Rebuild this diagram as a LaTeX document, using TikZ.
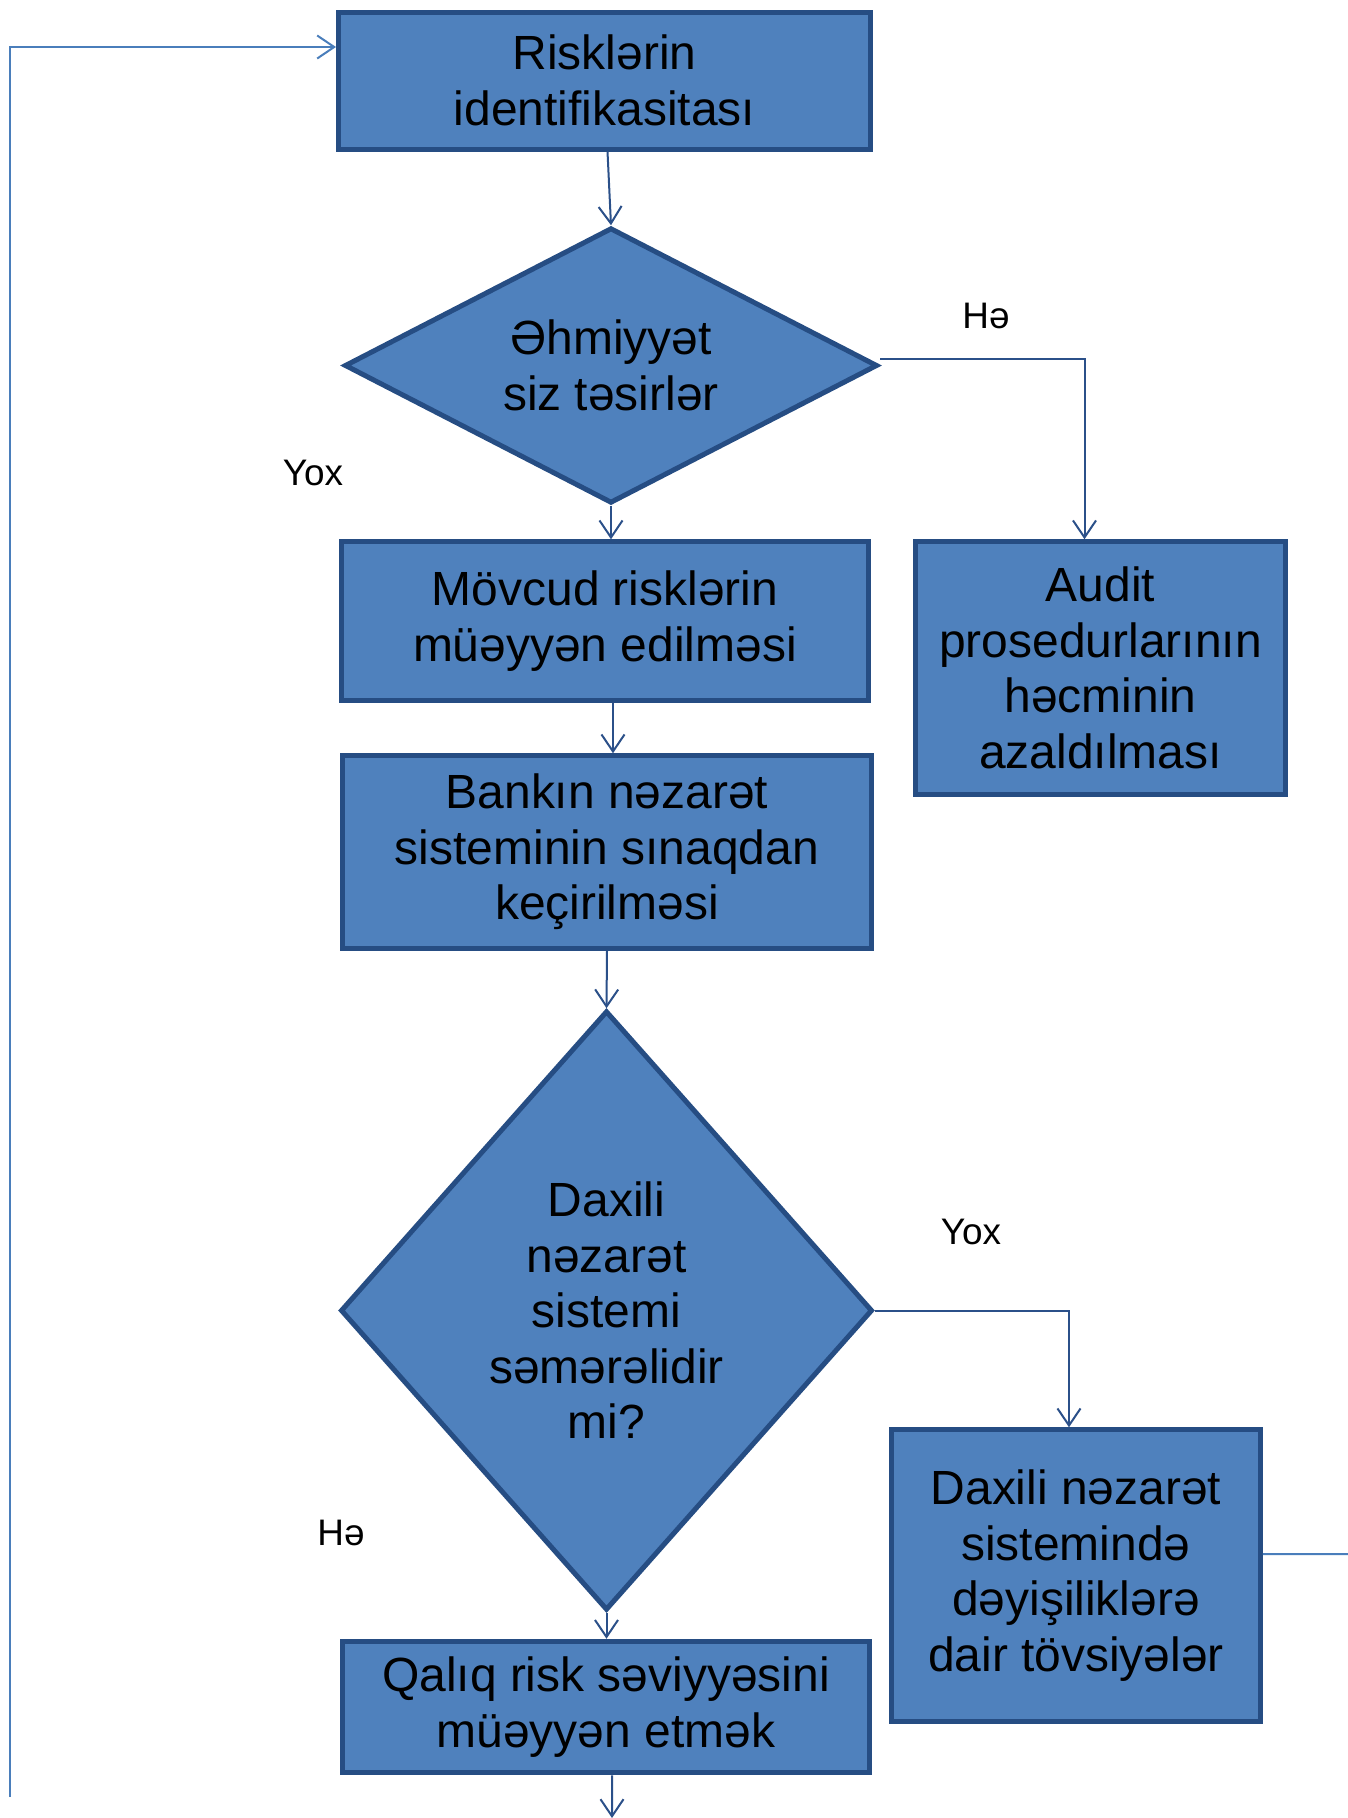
\documentclass[tikz,border=0pt]{standalone}
\usepackage{fontspec}
\setmainfont{Liberation Sans}
\usetikzlibrary{shapes.geometric,arrows.meta}
\definecolor{box fill}{HTML}{4F81BD}
\definecolor{box edge}{HTML}{264D83}
\definecolor{line dark}{HTML}{2B5089}
\definecolor{line light}{HTML}{4A7EBB}
\tikzset{block/.style={rectangle, fill=box fill, draw=box edge, line width=0.1cm, align=center, inner sep=0pt, font=\fontsize{27.3}{31.6}\selectfont},
	decision/.style={diamond, fill=box fill, draw=box edge, line width=0.1cm, inner sep=0pt},
	word/.style={align=center, font=\fontsize{27.3}{31.6}\selectfont},
	answer/.style={font=\fontsize{21}{24}\selectfont},
	conn/.style={draw=line dark, line width=0.04cm, -{Straight Barb[length=0.34cm,width=0.46cm]}}}

\begin{document}
\begin{tikzpicture}
		\useasboundingbox (0,0) rectangle (26.96,-36.36);
		
		\node[block, minimum width=10.64cm, minimum height=2.74cm] (risk) at (12.09,-1.61) {Risklərin\\identifikasitası};
		\node[decision, minimum width=10.66cm, minimum height=5.51cm] (ehem) at (12.22,-7.31) {};
		\node[word] at (ehem) {Əhmiyyət\\siz təsirlər};
		\node[block, minimum width=10.55cm, minimum height=3.17cm] (movcud) at (12.1,-12.42) {Mövcud risklərin\\müəyyən edilməsi};
		\node[block, minimum width=7.39cm, minimum height=5.05cm] (audit) at (22.01,-13.36) {Audit\\prosedurlarının\\həcminin\\azaldılması};
		\node[block, minimum width=10.59cm, minimum height=3.85cm] (bank) at (12.14,-17.04) {Bankın nəzarət\\sisteminin sınaqdan\\keçirilməsi};
		\node[decision, minimum width=10.64cm, minimum height=11.99cm] (daxili) at (12.13,-26.21) {};
		\node[word] at (daxili) {Daxili\\nəzarət\\sistemi\\səmərəlidir\\mi?};
		\node[block, minimum width=7.37cm, minimum height=5.83cm] (tovsiye) at (21.52,-31.51) {Daxili nəzarət\\sistemində\\dəyişiliklərə\\dair tövsiyələr};
		\node[block, minimum width=10.53cm, minimum height=2.63cm] (qaliq) at (12.12,-34.14) {Qalıq risk səviyyəsini\\müəyyən etmək};
		
		\node[answer] (he1) at (19.72,-6.32) {Hə};
		\node[answer] (yox1) at (6.26,-9.46) {Yox};
		\node[answer] (yox2) at (19.42,-24.64) {Yox};
		\node[answer] (he2) at (6.82,-30.66) {Hə};
		
		\coordinate (loopstart) at (0.2,-35.94);
		\coordinate (rightend) at (26.96,-31.08);
		\coordinate (bottomend) at (12.24,-36.36);
		
		\draw[conn] ([xshift=0.06cm]risk.south) -- (ehem.north);
		\draw[conn] (ehem.south) -- (ehem.south |- movcud.north);
		\draw[conn] ([xshift=0.16cm]movcud.south) -- ([xshift=0.16cm]movcud.south |- bank.north);
		\draw[conn] (bank.south) -- (daxili.north);
		\draw[conn] (daxili.south) -- (daxili.south |- qaliq.north);
		\draw[conn] ([xshift=0.12cm]qaliq.south) -- (bottomend);
		\draw[conn] ([yshift=0.13cm]ehem.east) -| ([xshift=-0.32cm]audit.north);
		\draw[conn] (daxili.east) -| ([xshift=-0.14cm]tovsiye.north);
		\draw[line light, line width=0.04cm] ([yshift=0.43cm]tovsiye.east) -- (rightend);
		\draw[conn, draw=line light] (loopstart) |- ([yshift=0.67cm]risk.west);
		
		\end{tikzpicture}
\end{document}
